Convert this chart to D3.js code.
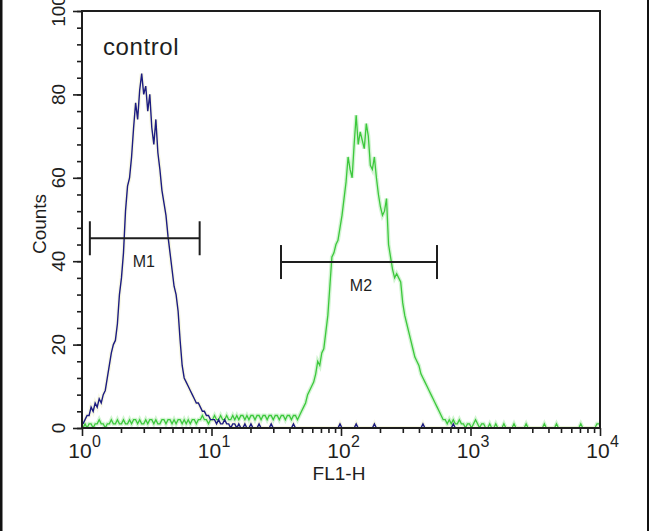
<!DOCTYPE html>
<html><head><meta charset="utf-8">
<script src="https://cdn.jsdelivr.net/npm/d3@7"></script>
<style>html,body{margin:0;padding:0;background:#fff;overflow:hidden;} svg{display:block;font-family:"Liberation Sans",Arial,sans-serif;}</style>
</head><body><svg id="c" width="650" height="531"></svg>
<script>
// ---- data ----
const channelsPerDecade = 64;
const controlCounts = [
1,2,3,3,5,4,6,5,7,6,
8,9,12,15,18,20,21,25,32,36,
42,52,58,60,65,72,78,74,81,85,
80,82,76,80,72,68,74,66,62,57,
54,51,46,42,38,34,32,28,21,15,
12,11,10,9,8,7,6,6,5,4,
4,3,3,2,2,2,1,2,1,1,
2,1,1,0,1,1,0,1,0,0,
1,0,0,1,0,0,0,1,0,0,
0,0,0,1,0,0,0,0,0,0,
0,0,0,0,1,0,0,0,0,0,
0,0,0,0,0,0,0,0,0,0,
0,0,0,0,0,0,0,1,0,0,
0,0,0,0,0,1,0,0,0,0,
0,0,0,0,1,0,0,0,0,0,
0,0,0,0,0,0,0,0,0,0,
0,0,0,0,0,0,0,0,1,0,
0,0,0,0,0,0,0,0,0,0,
0,0,0,1,0,0,0,0,0,0,
0,0,0,0,0,0,0,0,0,0,
0,0,0,0,0,0,0,0,0,0,
0,0,0,0,0,0,0,0,0,0,
0,0,0,0,0,0,0,0,0,0,
0,0,0,0,0,0,0,0,0,0,
0,0,0,0,0,0,0,0,0,0,
0,0,0,0,0,0
];
const sampleCounts = [
0,1,0,1,1,0,1,1,2,1,
1,0,1,1,2,1,1,2,1,1,
2,1,1,2,1,2,2,1,2,1,
1,2,1,2,2,1,2,1,1,2,
2,1,2,2,1,2,1,2,2,1,
2,1,2,1,2,2,1,2,2,3,
2,2,1,2,2,3,2,2,3,2,
2,3,2,2,3,2,3,2,3,3,
2,3,2,3,3,2,3,3,2,3,
3,2,3,3,2,3,3,2,3,3,
2,3,3,2,3,3,2,3,4,5,
6,8,9,10,11,13,16,15,18,19,
23,27,34,41,42,44,45,48,51,55,
59,65,62,60,68,75,68,71,69,67,
73,70,63,62,65,60,56,53,51,52,
55,44,41,38,36,37,36,35,30,27,
25,23,21,19,17,16,15,13,12,11,
10,9,8,7,6,5,4,3,2,2,
1,2,1,2,1,1,2,1,1,0,
1,1,0,1,2,1,0,1,1,0,
0,1,0,0,1,0,0,0,1,0,
0,0,0,1,0,0,0,0,0,1,
0,0,0,0,0,0,0,0,1,0,
0,0,0,0,1,0,0,0,0,0,
0,0,0,0,0,0,1,0,0,0,
0,0,0,0,1,1
];
const yTicks = [0,20,40,60,80,100];
const yMinorStep = 4;
const xDecades = [0,1,2,3,4];
const markerLabels = ["M1","M2"];
const markerLo = [1.15, 34.4];
const markerHi = [8.1, 551];
const markerLevel = [45.5, 39.8];
const panelTitle = "control";
const xTitle = "FL1-H";
const yTitle = "Counts";

// ---- drawing ----
const svg = d3.select("#c");
const L = 82, T = 11, R = 600, B = 428;
const x = d3.scaleLog().domain([1, 1e4]).range([L, R]);
const y = d3.scaleLinear().domain([0, 100]).range([B, T]);
const ink = "#1e1e1e";

svg.append("rect").attr("width",650).attr("height",531).attr("fill","#fff");
// outer image borders
svg.append("rect").attr("x",0).attr("y",0).attr("width",2.5).attr("height",531).attr("fill","#111");
svg.append("rect").attr("x",647).attr("y",0).attr("width",2).attr("height",531).attr("fill","#111");

svg.append("defs").append("clipPath").attr("id","pc")
  .append("rect").attr("x",L).attr("y",T).attr("width",R-L).attr("height",B-T);

function pts(arr){
  return arr.map((v,i)=>[Math.pow(10, (i+0.5)/channelsPerDecade), v]);
}
const line = d3.line().x(d=>x(d[0])).y(d=>y(d[1])).curve(d3.curveLinear);
const g = svg.append("g").attr("clip-path","url(#pc)");

g.append("path").datum(pts(sampleCounts)).attr("d",line)
  .attr("fill","none").attr("stroke","#bff0bf").attr("stroke-width",4).attr("opacity",0.7);
g.append("path").datum(pts(controlCounts)).attr("d",line)
  .attr("fill","none").attr("stroke","#f4f4d8").attr("stroke-width",4).attr("opacity",0.7);
g.append("path").datum(pts(sampleCounts)).attr("d",line)
  .attr("fill","none").attr("stroke","#3cc83c").attr("stroke-width",1.3);
g.append("path").datum(pts(controlCounts)).attr("d",line)
  .attr("fill","none").attr("stroke","#1c1c80").attr("stroke-width",1.4);

// frame
svg.append("rect").attr("x",L).attr("y",T).attr("width",R-L).attr("height",B-T)
  .attr("fill","none").attr("stroke",ink).attr("stroke-width",2);

// y axis ticks
const yMinor = d3.range(0, 100 + 0.001, yMinorStep);
const ya1 = svg.append("g").attr("transform",`translate(${L},0)`)
  .call(d3.axisLeft(y).tickValues(yMinor).tickSize(5).tickFormat(""));
const ya2 = svg.append("g").attr("transform",`translate(${L},0)`)
  .call(d3.axisLeft(y).tickValues(yTicks).tickSize(9).tickFormat(""));
// x axis ticks
const xMinor = [];
xDecades.slice(0,-1).forEach(d=>{ for(let k=2;k<10;k++) xMinor.push(k*Math.pow(10,d)); });
const xa1 = svg.append("g").attr("transform",`translate(0,${B})`)
  .call(d3.axisBottom(x).tickValues(xMinor).tickSize(5).tickFormat(""));
const xa2 = svg.append("g").attr("transform",`translate(0,${B})`)
  .call(d3.axisBottom(x).tickValues(xDecades.map(d=>Math.pow(10,d))).tickSize(8).tickFormat(""));
[ya1,ya2,xa1,xa2].forEach(a=>{
  a.select(".domain").remove();
  a.selectAll("line").attr("stroke",ink).attr("stroke-width",1.6);
});

// y tick labels (rotated)
svg.append("g").selectAll("text").data(yTicks).join("text")
  .attr("transform",d=>`translate(65,${y(d)}) rotate(-90)`)
  .attr("text-anchor","middle").attr("font-size",19).attr("fill",ink)
  .text(d=>d);

// x tick labels 10^n
const xl = svg.append("g").selectAll("g").data(xDecades).join("g")
  .attr("transform",d=>`translate(${x(Math.pow(10,d))},0)`);
xl.append("text").attr("x",-2).attr("y",457.5).attr("text-anchor","middle")
  .attr("font-size",21).attr("fill",ink).text("10");
xl.append("text").attr("x",10).attr("y",447).attr("text-anchor","start")
  .attr("font-size",16).attr("fill",ink).text(d=>d);

// axis titles
svg.append("text").attr("x",339).attr("y",480).attr("text-anchor","middle")
  .attr("font-size",19).attr("fill",ink).text(xTitle);
svg.append("text").attr("transform","translate(46,224) rotate(-90)")
  .attr("text-anchor","middle").attr("font-size",19).attr("fill",ink).text(yTitle);

// panel title
svg.append("text").attr("x",103).attr("y",54.5).attr("font-size",24)
  .attr("letter-spacing",0.6).attr("fill",ink).text(panelTitle);

// markers
markerLabels.forEach((lab,i)=>{
  const yy = y(markerLevel[i]), x1 = x(markerLo[i]), x2 = x(markerHi[i]);
  const mg = svg.append("g").attr("stroke",ink).attr("stroke-width",2);
  mg.append("line").attr("x1",x1).attr("x2",x2).attr("y1",yy).attr("y2",yy);
  mg.append("line").attr("x1",x1).attr("x2",x1).attr("y1",yy-17).attr("y2",yy+17);
  mg.append("line").attr("x1",x2).attr("x2",x2).attr("y1",yy-17).attr("y2",yy+17);
  svg.append("text").attr("x",(x1+x2)/2 + (i===0?-1:2)).attr("y",yy+29)
    .attr("text-anchor","middle").attr("font-size",16).attr("fill",ink).text(lab);
});
</script></body></html>
